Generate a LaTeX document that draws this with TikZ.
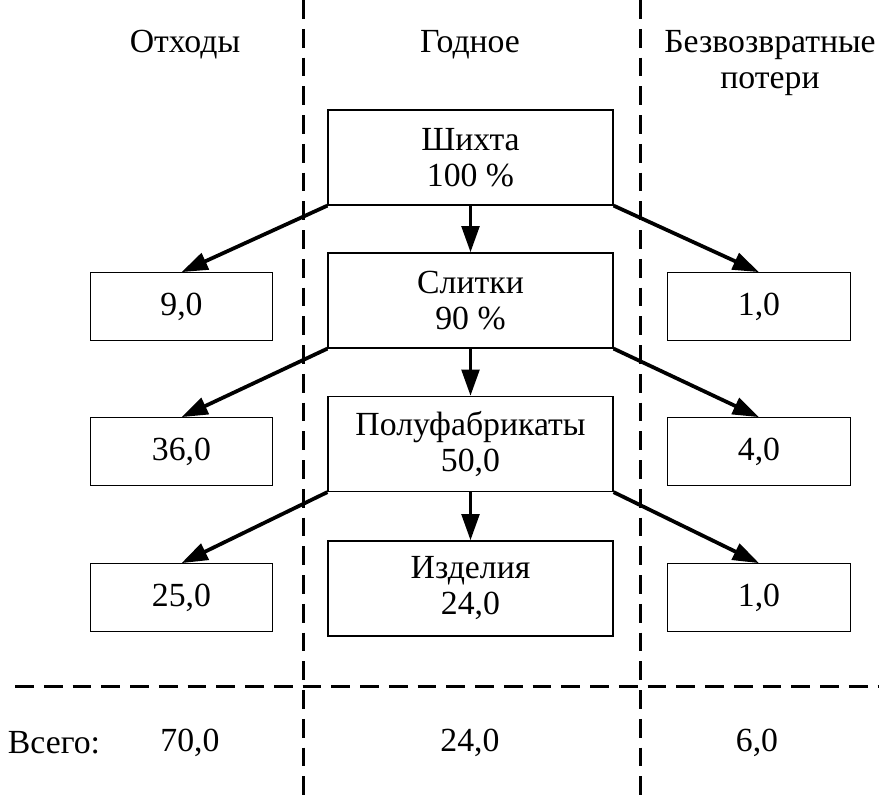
\documentclass[tikz,border=0pt]{standalone}
\usepackage{fontspec}
\setmainfont{Liberation Serif}
\usetikzlibrary{arrows.meta, positioning}

\begin{document}
\begin{tikzpicture}[
  x=0.4pt, y=-0.4pt,
  >={Triangle[length=10.5pt, width=7pt]},
  every node/.style = {font=\fontsize{13.5}{14.4}\selectfont},
  %-- block styles -------------------------------------------------------
  mainbox/.style = {draw, line width=0.5pt, align=center,
                    minimum width=114pt, minimum height=38pt},
  sidebox/.style = {draw, line width=0.5pt, align=center,
                    minimum width=73pt, minimum height=27pt},
  headlab/.style = {align=center},
  arrow/.style   = {->, line width=1.5pt},
  divider/.style = {line width=1.2pt, dash pattern=on 7.5pt off 4pt},
]
\useasboundingbox (0,0) rectangle (879,801);

% ── Column dividers ───────────────────────────────────────────────────────────
\draw[divider] (303,0) -- (303,801);
\draw[divider] (640,0) -- (640,801);
\draw[divider] (15,686) -- (879,686);

% ── Column headers ────────────────────────────────────────────────────────────
\node[headlab] (hwaste) at (185,45)   {Отходы};
\node[headlab] (hgood)  at (470,45)   {Годное};
\node[headlab] (hloss)  at (770,63)   {Безвозвратные\\потери};

% ── Main chain ────────────────────────────────────────────────────────────────
\node[mainbox] (charge) at (470.5,157.5) {Шихта\\100 \%};
\node[mainbox] (ingot)  at (470.5,300.5) {Слитки\\90 \%};
\node[mainbox] (semi)   at (470.5,444)   {Полуфабрикаты\\50,0};
\node[mainbox] (prod)   at (470.5,588.5) {Изделия\\24,0};

\draw[arrow] (charge) -- (ingot);
\draw[arrow] (ingot)  -- (semi);
\draw[arrow] (semi)   -- (prod);

% ── Waste (left) ──────────────────────────────────────────────────────────────
\node[sidebox] (waste1) at (181.5,306.5) {9,0};
\node[sidebox] (waste2) at (181.5,451.5) {36,0};
\node[sidebox] (waste3) at (181.5,597.5) {25,0};

\draw[arrow] (charge.south west) -- (waste1.north);
\draw[arrow] (ingot.south west)  -- (waste2.north);
\draw[arrow] (semi.south west)   -- (waste3.north);

% ── Irrecoverable losses (right) ──────────────────────────────────────────────
\node[sidebox] (loss1) at (759,306.5) {1,0};
\node[sidebox] (loss2) at (759,451.5) {4,0};
\node[sidebox] (loss3) at (759,597.5) {1,0};

\draw[arrow] (charge.south east) -- (loss1.north);
\draw[arrow] (ingot.south east)  -- (loss2.north);
\draw[arrow] (semi.south east)   -- (loss3.north);

% ── Totals ────────────────────────────────────────────────────────────────────
\node (totlab)   at (54,743)  {Всего:};
\node (totwaste) at (190,743) {70,0};
\node (totgood)  at (470,743) {24,0};
\node (totloss)  at (757,743) {6,0};

\end{tikzpicture}
\end{document}
